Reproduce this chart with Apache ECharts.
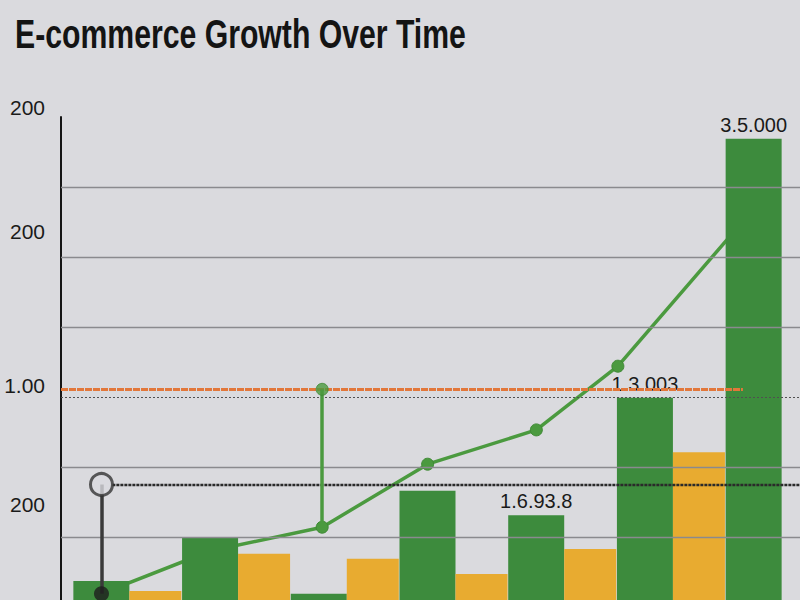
<!DOCTYPE html>
<html><head><meta charset="utf-8">
<script src="https://cdn.jsdelivr.net/npm/echarts@6/dist/echarts.min.js"></script>
<style>html,body{margin:0;padding:0;background:#dadade}#chart{width:800px;height:600px}</style>
</head><body><div id="chart"></div>
<script>
// ---- data ----
const categories = ['P1', 'P2', 'P3', 'P4', 'P5', 'P6', 'P7'];
const greenValues = [3.7, 9.9, 1.9, 16.6, 13.1, 29.9, 66.9];
const yellowValues = [2.3, 7.6, 6.9, 4.7, 8.3, 22.1, null];
const greenLabels = ['', '', '', '', '1.6.93.8', '1.3.003', '3.5.000'];
const trendX = [0, 1, 2.03, 3, 4, 4.75, 5.9];
const trendY = [1.9, 8.0, 11.4, 20.4, 25.3, 34.4, 55.1];
const yTickValues = [71.4, 53.6, 31.7, 14.6];
const yTickLabels = ['200', '200', '1.00', '200'];
const gridValues = [10, 20, 40, 50, 60];
const dottedValue = 30;
const orangeValue = 31.1;
const markerValue = 17.5;
const markerStartX = 0;
const stemX = 2.03;
const titleText = 'E-commerce Growth Over Time';

const chart = echarts.init(document.getElementById('chart'), null, {renderer: 'svg'});
const GREEN = '#3d8b3d', YELLOW = '#e8ab30', LINE = '#4b9a3f', BG = '#dadade';

const option = {
  backgroundColor: BG,
  animation: false,
  graphic: [{
    type: 'text', left: 15, top: 14, scaleX: 0.755, z: 10,
    style: {text: titleText, font: "bold 40px 'Liberation Sans', Arial, sans-serif", fill: '#141414'}
  }],
  grid: [
    {left: 61, right: 0, top: 96, bottom: -7, outerBoundsMode: 'none', containLabel: false},
    {left: 73, right: -34, top: 117, bottom: -7, outerBoundsMode: 'none', containLabel: false}
  ],
  xAxis: [
    {type: 'value', gridIndex: 0, min: -0.3725, max: 6.425, show: false},
    {type: 'category', gridIndex: 1, data: categories, show: false},
    {type: 'value', gridIndex: 1, min: -0.262, max: 6.738, show: false}
  ],
  yAxis: [
    {type: 'value', gridIndex: 0, min: 0, max: 73,
      axisLine: {show: false}, axisTick: {show: false}, splitLine: {show: false},
      axisLabel: {show: true, customValues: yTickValues, margin: 16,
        fontFamily: "'Liberation Sans', Arial, sans-serif", fontSize: 21, color: '#1a1a1a',
        formatter: function (v) {
          for (let i = 0; i < yTickValues.length; i++) if (Math.abs(yTickValues[i] - v) < 0.01) return yTickLabels[i];
          return '';
        }}
    },
    {type: 'value', gridIndex: 1, min: 0, max: 70, offset: 12,
      axisLine: {show: true, onZero: false, lineStyle: {color: '#151515', width: 2}},
      axisTick: {show: false}, axisLabel: {show: false}, splitLine: {show: false}}
  ],
  series: [
    {
      type: 'line', xAxisIndex: 0, yAxisIndex: 0, data: [], z: 1, silent: true,
      markLine: {
        silent: true, symbol: 'none', label: {show: false}, animation: false,
        data: gridValues.map(v => ({yAxis: v, lineStyle: {color: '#8a8a8e', width: 1.3, type: 'solid'}}))
          .concat([
            {yAxis: dottedValue, lineStyle: {color: '#505050', width: 1.2, type: [2, 2]}},
            [{coord: [-0.3725, orangeValue], lineStyle: {color: '#e2773a', width: 3.2, type: [7, 1]}},
             {coord: [5.9, orangeValue]}],
            [{coord: [markerStartX + 0.1, markerValue], lineStyle: {color: '#2a2a2a', width: 2.4, type: [3, 1]}},
             {coord: [6.425, markerValue]}]
          ])
      }
    },
    {
      name: 'Green', type: 'bar', xAxisIndex: 1, yAxisIndex: 1, data: greenValues,
      barWidth: 56, barGap: '0%', z: 3,
      itemStyle: {color: GREEN},
      label: {show: true, position: 'top', distance: 4, fontFamily: "'Liberation Sans', Arial, sans-serif",
        fontSize: 20, color: '#1a1a1a', formatter: p => greenLabels[p.dataIndex]}
    },
    {
      name: 'Yellow', type: 'bar', xAxisIndex: 1, yAxisIndex: 1, data: yellowValues,
      barWidth: 52, barGap: '0%', z: 3,
      itemStyle: {color: YELLOW}
    },
    {
      name: 'Trend', type: 'line', xAxisIndex: 2, yAxisIndex: 1, z: 2,
      data: trendX.map((x, i) => i === 0 ? {value: [x, trendY[i]], symbol: 'none'} : [x, trendY[i]]),
      symbol: 'circle', symbolSize: 12,
      lineStyle: {color: LINE, width: 3.5},
      itemStyle: {color: LINE, borderColor: '#3f8a35', borderWidth: 1}
    },
    {
      type: 'scatter', xAxisIndex: 2, yAxisIndex: 1, z: 4, silent: true, data: [],
      markLine: {
        silent: true, symbol: 'none', label: {show: false}, animation: false,
        data: [
          [{coord: [markerStartX, trendY[0]], lineStyle: {color: '#3a3a3a', width: 3.5, type: 'solid'}},
           {coord: [markerStartX, markerValue]}],
          [{coord: [stemX, trendY[2]], lineStyle: {color: LINE, width: 3.5, type: 'solid'}},
           {coord: [stemX, orangeValue]}]
        ]
      }
    },
    {
      type: 'scatter', xAxisIndex: 2, yAxisIndex: 1, z: 5, silent: true,
      data: [
        {value: [markerStartX, trendY[0]], symbolSize: 15, itemStyle: {color: '#1e1e1e'}},
        {value: [markerStartX, markerValue], symbolSize: 22, itemStyle: {color: BG, borderColor: '#333333', borderWidth: 3}},
        {value: [stemX, orangeValue], symbolSize: 12, itemStyle: {color: LINE, borderColor: '#3f8a35', borderWidth: 1}}
      ]
    }
  ]
};
chart.setOption(option);
</script>
</body></html>
